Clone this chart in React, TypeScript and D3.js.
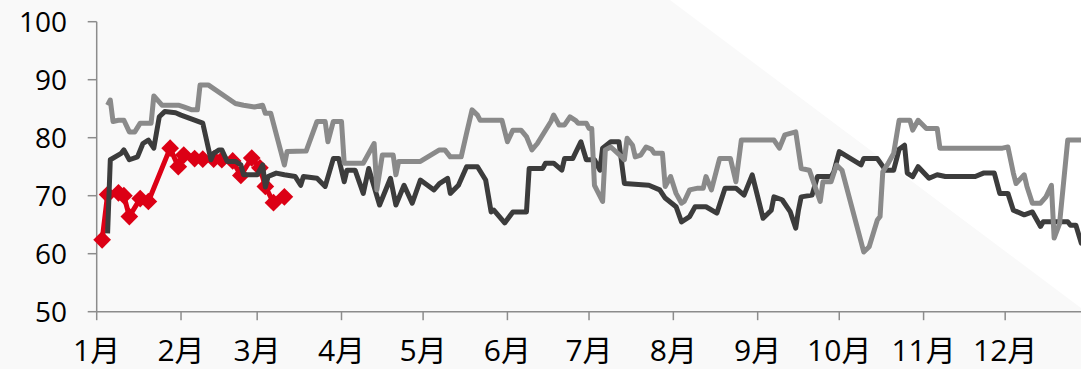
import React from "react";
import * as d3 from "d3";

const YEAR = 2023;
const monthLabels = ["1月", "2月", "3月", "4月", "5月", "6月", "7月", "8月", "9月", "10月", "11月", "12月"];
const yTicks = [50, 60, 70, 80, 90, 100];

// dark gray series [MM-DD, value]
const darkSeries: [string, number][] = [
  ["01-05", 63.5], ["01-06", 76.2], ["01-10", 77.3], ["01-11", 77.9], ["01-13", 76.2], ["01-16", 76.7],
  ["01-18", 79.0], ["01-20", 79.6], ["01-22", 78.2], ["01-24", 83.6], ["01-26", 84.5], ["01-30", 84.3],
  ["02-01", 83.9], ["02-09", 82.5], ["02-12", 76.2], ["02-13", 77.3], ["02-15", 77.9], ["02-16", 77.9],
  ["02-18", 75.9], ["02-21", 75.9], ["02-23", 75.3], ["02-24", 73.6], ["03-01", 73.6], ["03-03", 75.3],
  ["03-04", 71.5], ["03-05", 73.3], ["03-08", 73.9], ["03-11", 73.6], ["03-15", 73.3], ["03-17", 71.8],
  ["03-18", 73.3], ["03-23", 73.0], ["03-26", 71.6], ["03-29", 76.4], ["03-31", 76.4], ["04-02", 72.4],
  ["04-03", 74.4], ["04-06", 74.4], ["04-09", 70.4], ["04-11", 74.7], ["04-15", 68.4], ["04-19", 73.0],
  ["04-21", 68.4], ["04-24", 71.8], ["04-27", 68.7], ["04-30", 72.7], ["05-05", 71.0], ["05-07", 72.1],
  ["05-10", 73.0], ["05-11", 70.4], ["05-14", 71.8], ["05-17", 75.0], ["05-21", 75.0], ["05-24", 72.7],
  ["05-26", 67.2], ["05-27", 67.5], ["05-31", 65.3], ["06-03", 67.2], ["06-08", 67.2], ["06-09", 74.7],
  ["06-14", 74.7], ["06-15", 75.6], ["06-18", 75.6], ["06-21", 74.4], ["06-22", 76.4], ["06-25", 76.4],
  ["06-28", 79.3], ["06-30", 76.2], ["07-03", 76.2], ["07-05", 74.4], ["07-06", 78.2], ["07-09", 79.3],
  ["07-12", 79.3], ["07-14", 72.1], ["07-23", 71.8], ["07-27", 71.0], ["07-29", 69.6], ["08-02", 68.1],
  ["08-04", 65.5], ["08-07", 66.4], ["08-09", 68.1], ["08-13", 68.1], ["08-17", 67.0], ["08-20", 71.3],
  ["08-24", 71.3], ["08-27", 70.1], ["08-30", 73.6], ["09-03", 66.1], ["09-06", 67.5], ["09-07", 69.8],
  ["09-10", 69.3], ["09-13", 67.2], ["09-15", 64.4], ["09-16", 67.5], ["09-17", 69.8], ["09-21", 70.1],
  ["09-23", 73.3], ["09-28", 73.3], ["09-29", 74.1], ["10-01", 77.6], ["10-09", 75.3], ["10-10", 76.4],
  ["10-15", 76.4], ["10-18", 74.4], ["10-21", 74.4], ["10-23", 78.0], ["10-25", 78.7], ["10-26", 73.9],
  ["10-28", 73.3], ["10-30", 75.0], ["11-03", 73.0], ["11-06", 73.6], ["11-09", 73.3], ["11-20", 73.3],
  ["11-23", 73.9], ["11-27", 73.9], ["11-29", 70.4], ["12-02", 70.4], ["12-04", 67.5], ["12-08", 66.7],
  ["12-11", 67.2], ["12-14", 64.7], ["12-15", 65.5], ["12-24", 65.5], ["12-25", 64.9], ["12-27", 64.9],
  ["12-29", 61.8], ["12-31", 61.8],
];

// light gray series [MM-DD, value]
const lightSeries: [string, number][] = [
  ["01-05", 85.6], ["01-06", 86.5], ["01-07", 82.8], ["01-09", 83.0], ["01-11", 83.0], ["01-13", 81.0],
  ["01-15", 81.0], ["01-17", 82.5], ["01-21", 82.5], ["01-22", 87.2], ["01-25", 85.6], ["01-31", 85.6],
  ["02-02", 85.3], ["02-05", 84.8], ["02-07", 84.8], ["02-08", 89.1], ["02-11", 89.1], ["02-21", 85.9],
  ["02-24", 85.6], ["02-28", 85.3], ["03-03", 85.6], ["03-04", 84.2], ["03-06", 84.2], ["03-11", 75.3],
  ["03-12", 77.6], ["03-19", 77.7], ["03-23", 82.8], ["03-26", 82.8], ["03-27", 79.3], ["03-29", 82.8],
  ["04-01", 82.8], ["04-02", 75.6], ["04-09", 75.6], ["04-13", 79.0], ["04-14", 71.0], ["04-16", 77.0],
  ["04-20", 77.0], ["04-21", 73.6], ["04-22", 75.9], ["04-30", 75.9], ["05-07", 77.9], ["05-09", 77.9],
  ["05-11", 76.7], ["05-15", 76.7], ["05-17", 80.8], ["05-19", 84.8], ["05-21", 83.9], ["05-22", 83.0],
  ["05-30", 83.0], ["06-01", 79.3], ["06-03", 81.3], ["06-06", 81.3], ["06-08", 80.2], ["06-10", 77.9],
  ["06-12", 79.0], ["06-17", 82.8], ["06-18", 83.9], ["06-20", 82.2], ["06-22", 82.2], ["06-24", 83.6],
  ["06-26", 83.0], ["06-27", 82.5], ["06-30", 82.5], ["07-01", 81.6], ["07-02", 81.6], ["07-03", 71.8],
  ["07-06", 69.0], ["07-07", 77.9], ["07-09", 78.4], ["07-13", 76.7], ["07-14", 76.2], ["07-15", 79.9],
  ["07-17", 78.7], ["07-18", 76.7], ["07-20", 77.0], ["07-22", 78.4], ["07-24", 78.0], ["07-25", 77.3],
  ["07-28", 77.3], ["07-29", 71.6], ["07-31", 73.3], ["08-02", 70.4], ["08-04", 68.7], ["08-05", 69.0],
  ["08-07", 71.0], ["08-10", 71.3], ["08-12", 71.3], ["08-13", 73.3], ["08-15", 71.0], ["08-18", 76.4],
  ["08-22", 76.4], ["08-24", 72.4], ["08-26", 79.6], ["09-07", 79.6], ["09-09", 78.2], ["09-11", 80.5],
  ["09-15", 81.0], ["09-17", 74.7], ["09-20", 74.4], ["09-24", 69.0], ["09-25", 72.4], ["09-28", 72.4],
  ["09-30", 75.3], ["10-02", 74.4], ["10-10", 60.3], ["10-12", 61.2], ["10-15", 65.8], ["10-16", 66.4],
  ["10-17", 74.1], ["10-19", 75.6], ["10-21", 77.3], ["10-23", 83.0], ["10-27", 83.0], ["10-28", 81.3],
  ["10-30", 83.0], ["11-02", 81.6], ["11-06", 81.6], ["11-07", 78.2], ["11-30", 78.2], ["12-02", 78.4],
  ["12-04", 73.9], ["12-05", 72.1], ["12-08", 73.6], ["12-09", 71.6], ["12-11", 68.7], ["12-14", 68.7],
  ["12-16", 69.8], ["12-18", 71.8], ["12-19", 62.7], ["12-21", 65.2], ["12-24", 79.6], ["12-31", 79.6],
];

// red series with diamond markers [MM-DD, value]
const redSeries: [string, number][] = [
  ["01-03", 62.4], ["01-05", 70.2], ["01-09", 70.5], ["01-11", 70.0], ["01-13", 66.4], ["01-17", 69.5],
  ["01-20", 69.0], ["01-28", 78.2], ["01-31", 75.0], ["02-02", 77.0], ["02-06", 76.4], ["02-09", 76.3],
  ["02-13", 76.3], ["02-16", 76.2], ["02-20", 76.0], ["02-23", 73.5], ["02-27", 76.5], ["03-02", 74.8],
  ["03-04", 71.6], ["03-07", 68.8], ["03-11", 69.8],
];

const W = 1081;
const H = 369;
const X0 = 96.7;
const PX_PER_DAY = 2.72;
const Y_TOP = 21.7;
const Y_BOTTOM = 311.7;

const parse = (s: string) => new Date(YEAR, +s.slice(0, 2) - 1, +s.slice(3, 5));

const FONT = "'Open Sans', 'Noto Sans CJK SC', sans-serif";

export default function App() {
  const start = new Date(YEAR, 0, 1);
  const end = new Date(YEAR + 1, 0, 1);
  const x = d3.scaleTime().domain([start, end]).range([X0, X0 + 365 * PX_PER_DAY]);
  const y = d3.scaleLinear().domain([50, 100]).range([Y_BOTTOM, Y_TOP]);

  const line = d3
    .line<[string, number]>()
    .x((d) => x(parse(d[0])))
    .y((d) => y(d[1]));

  const monthStarts = d3.timeMonth.range(start, end);
  const diamond = d3.symbol().type(d3.symbolDiamond2).size(200)();

  return (
    <div style={{ position: "absolute", left: 0, top: 0 }}>
      <svg width={W} height={H} style={{ display: "block" }}>
        <rect x={0} y={0} width={W} height={H} fill="#f9f9f9" />
        <polygon points={`670,0 ${W},0 ${W},308`} fill="#ffffff" />

        {/* y axis */}
        <line x1={X0} x2={X0} y1={Y_TOP} y2={Y_BOTTOM} stroke="#8c8c8c" strokeWidth={1.5} />
        {yTicks.map((t) => (
          <g key={t}>
            <line x1={X0 - 9} x2={X0} y1={y(t)} y2={y(t)} stroke="#8c8c8c" strokeWidth={1.5} />
            <text
              x={67}
              y={y(t) + 10}
              textAnchor="end"
              fontFamily={FONT}
              fontSize={28}
              fill="#000"
            >
              {t}
            </text>
          </g>
        ))}

        {/* x axis */}
        <line x1={X0} x2={W} y1={Y_BOTTOM} y2={Y_BOTTOM} stroke="#8c8c8c" strokeWidth={1.5} />
        {monthStarts.map((m, i) => (
          <g key={i}>
            <line x1={x(m)} x2={x(m)} y1={Y_BOTTOM} y2={Y_BOTTOM + 8.5} stroke="#8c8c8c" strokeWidth={1.5} />
            <text
              x={x(m)}
              y={361}
              textAnchor="middle"
              fontFamily={FONT}
              fontSize={30}
              fill="#000"
            >
              {monthLabels[i]}
            </text>
          </g>
        ))}

        {/* red series */}
        <path d={line(redSeries) || ""} fill="none" stroke="#dc0015" strokeWidth={5} strokeLinejoin="round" />
        {redSeries.map((d, i) => (
          <path
            key={i}
            d={diamond || ""}
            transform={`translate(${x(parse(d[0]))},${y(d[1])})`}
            fill="#dc0015"
          />
        ))}
        {/* dark series */}
        <path d={line(darkSeries) || ""} fill="none" stroke="#3c3c3c" strokeWidth={5} strokeLinejoin="round" />
        {/* light series */}
        <path d={line(lightSeries) || ""} fill="none" stroke="#8a8a8a" strokeWidth={5} strokeLinejoin="round" />
      </svg>
    </div>
  );
}
